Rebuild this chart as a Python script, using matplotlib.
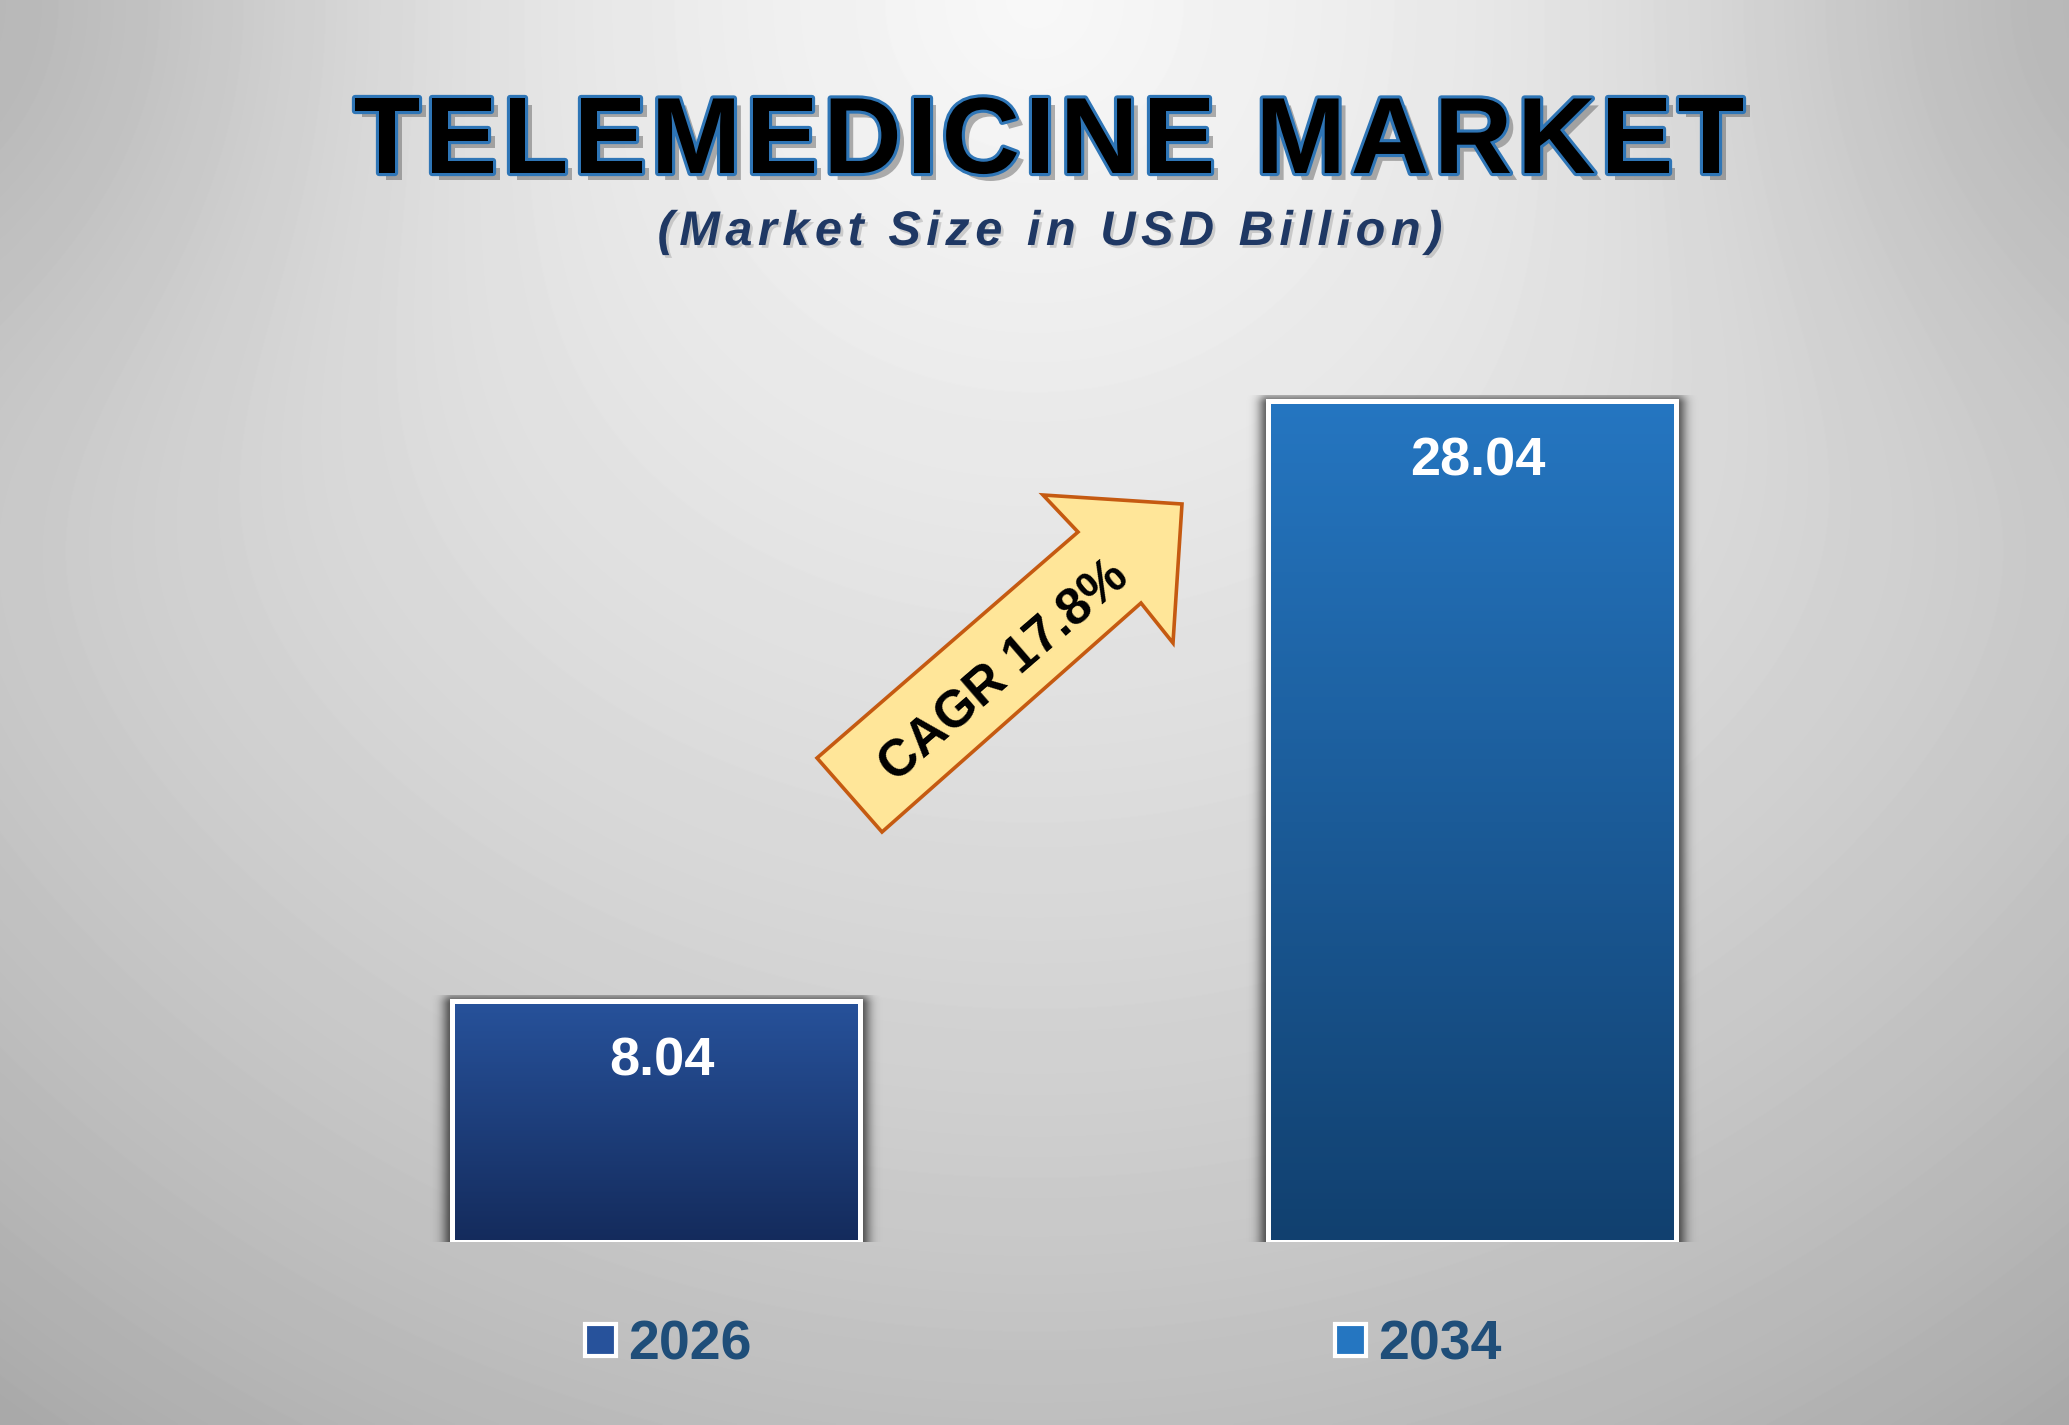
import numpy as np
import matplotlib
matplotlib.use('Agg')
import matplotlib.pyplot as plt
from matplotlib import patheffects as pe
from matplotlib.patches import Polygon, Patch
from matplotlib.colors import LinearSegmentedColormap

# ---------------- data ----------------
years = ['2026', '2034']
values = [8.04, 28.04]
cagr_label = 'CAGR 17.8%'
title = 'TELEMEDICINE MARKET'
subtitle = '(Market Size in USD Billion)'

# ---------------- style ----------------
W, H, DPI = 2069, 1425, 100
FONT = 'Liberation Sans'
tops = ['#27529b', '#2576c1']
bottoms = ['#142b5c', '#11406f']
label_blue = '#1f4e79'

fig = plt.figure(figsize=(W / DPI, H / DPI), dpi=DPI)

# background radial gradient (bright at top centre)
bg = fig.add_axes([0, 0, 1, 1], zorder=-10)
bg.axis('off')
yy, xx = np.mgrid[0:H, 0:W].astype(float)
r = np.sqrt((xx - W / 2) ** 2 + yy ** 2) / 1425.0
v = 248 - 46 * r - 12 * r ** 3
dcl = np.sqrt(xx ** 2 + yy ** 2)
dcr = np.sqrt((W - xx) ** 2 + yy ** 2)
v -= 26 * (np.exp(-(dcl / 380.0) ** 2) + np.exp(-(dcr / 380.0) ** 2))
v = np.clip(v, 150, 250)
bg.imshow(v, cmap='gray', vmin=0, vmax=255, extent=[0, 1, 0, 1],
          aspect='auto', origin='upper', interpolation='bilinear')

# main axes
base_px = 183
ax = fig.add_axes([0, base_px / H, 1, 1 - base_px / H])
ax.axis('off')
ax.patch.set_alpha(0)
x = np.arange(len(values))
bar_w = 0.5
px_per_x = 816.0
px_per_y = 841.0 / max(values)

bars = ax.bar(x, values, width=bar_w, facecolor='none', edgecolor='white',
              linewidth=3.6, zorder=4)

for i, (b, val) in enumerate(zip(bars, values)):
    x0 = b.get_x()
    x1 = x0 + b.get_width()
    # soft shadow
    m = 24
    wpx = int(round(b.get_width() * px_per_x)) + 2 * m
    hpx = int(round(val * px_per_y)) + 6
    gx = np.arange(wpx) - m
    gy = np.arange(hpx)
    dx = np.maximum(np.maximum(-gx, gx - (wpx - 2 * m)), 0)
    dy = np.maximum(gy - (hpx - 6) + 4, 0)
    d = np.sqrt(dx[None, :] ** 2 + dy[:, None] ** 2)
    alpha = 0.6 * np.exp(-(d / 10.0) ** 2)
    rgba = np.zeros((hpx, wpx, 4))
    rgba[..., 3] = alpha
    ax.imshow(rgba, extent=[x0 - m / px_per_x, x1 + m / px_per_x, 0, hpx / px_per_y],
              origin='lower', aspect='auto', zorder=1, interpolation='bilinear')
    # gradient fill
    cmap = LinearSegmentedColormap.from_list(f'g{i}', [bottoms[i], tops[i]])
    grad = np.linspace(0, 1, 256)[:, None]
    im = ax.imshow(grad, extent=[x0, x1, 0, val], origin='lower', aspect='auto',
                   cmap=cmap, zorder=2)
    im.set_clip_path(b)
    ax.annotate(f'{val:.2f}', xy=(x[i], val), xytext=(4.3, -54),
                textcoords='offset points', ha='center', va='baseline',
                color='white', fontsize=39, fontweight='bold', family=FONT, zorder=5)

ax.set_xlim(-655.5 / px_per_x, (W - 655.5) / px_per_x)
ax.set_ylim(0, (H - base_px) / px_per_y)

# ---------------- tracked title / subtitle ----------------
renderer = fig.canvas.get_renderer()


def char_width(ch, **kw):
    t1 = fig.text(0, 0, '|' + ch + '|', **kw)
    t2 = fig.text(0, 0, '||', **kw)
    w = t1.get_window_extent(renderer).width - t2.get_window_extent(renderer).width
    t1.remove(); t2.remove()
    return w


def tracked(s, cx, baseline_y, target_w, effects=None, **kw):
    widths = [char_width(c, **kw) for c in s]
    track = (target_w - sum(widths)) / (len(s) - 1)
    xpos = cx - target_w / 2.0
    for c, w in zip(s, widths):
        t = fig.text(xpos / W, 1 - baseline_y / H, c, ha='left', va='baseline', **kw)
        if effects:
            t.set_path_effects(effects)
        xpos += w + track


title_fx = [pe.SimplePatchShadow(offset=(5, -5), shadow_rgbFace='#555555', alpha=0.45),
            pe.Stroke(linewidth=4.5, foreground='#2e75b6'), pe.Normal()]
tracked(title, 1049, 173, 1390, effects=title_fx, family=FONT, fontweight='bold',
        fontsize=78, color='black')

sub_fx = [pe.SimplePatchShadow(offset=(2, -2), shadow_rgbFace='#888888', alpha=0.35), pe.Normal()]
tracked(subtitle, 1050, 245, 785, effects=sub_fx, family=FONT, fontweight='bold',
        fontstyle='italic', fontsize=35, color='#1f3864')

# ---------------- CAGR arrow ----------------
arrow_px = [(817, 758), (1078, 532), (1043, 495), (1182, 504), (1173, 643),
            (1141, 603), (882, 832)]
arrow = Polygon([(px / W, 1 - py / H) for px, py in arrow_px], closed=True,
                facecolor='#ffe699', edgecolor='#c55a11', linewidth=2.6,
                transform=fig.transFigure, zorder=6)
fig.add_artist(arrow)
fig.text(1001 / W, 1 - 668 / H, cagr_label, rotation=40.8, rotation_mode='anchor',
         ha='center', va='center_baseline', fontsize=37, fontweight='bold',
         family=FONT, color='black', zorder=7)

# ---------------- legend ----------------
handles = [Patch(facecolor=tops[i], edgecolor='white', linewidth=3) for i in range(len(years))]
leg = fig.legend(handles, years, loc='center', bbox_to_anchor=(1043 / W, 1 - 1346 / H),
                 ncol=2, frameon=False,
                 prop=dict(family=FONT, weight='bold', size=40), labelcolor=label_blue,
                 handlelength=0.56, handleheight=0.51, handletextpad=0.22,
                 columnspacing=10.5, borderpad=0, borderaxespad=0)

fig.savefig('out.png', dpi=DPI)
